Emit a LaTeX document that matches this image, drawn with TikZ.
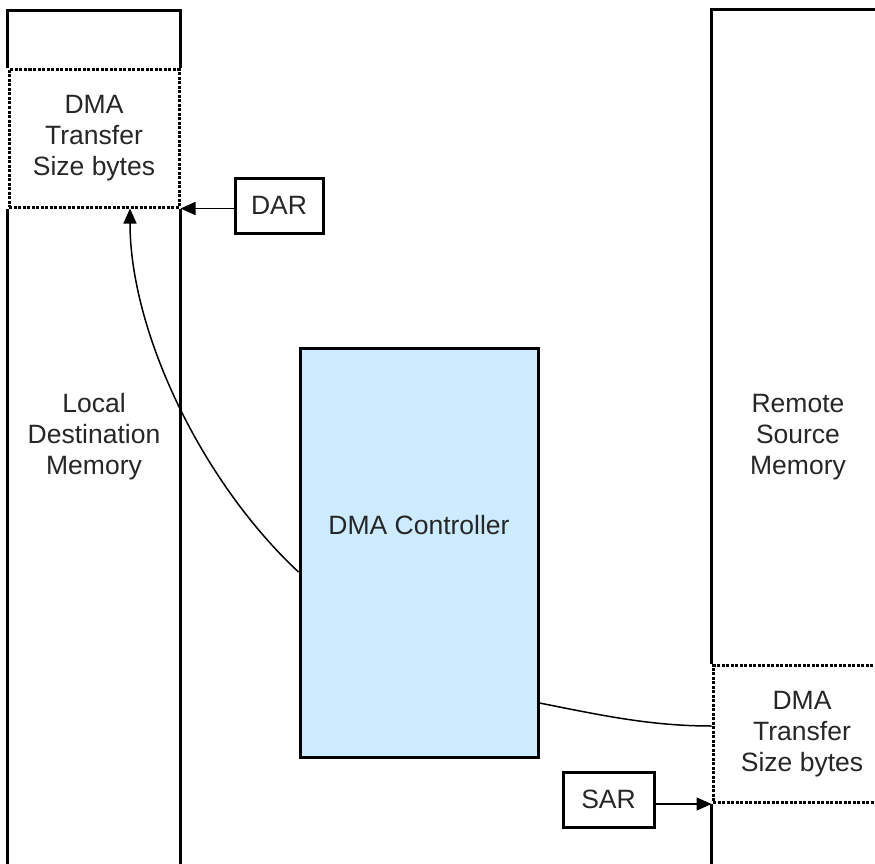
\documentclass[tikz,border=0pt]{standalone}
\usepackage{fontspec}
\setmainfont{Liberation Sans}
\usetikzlibrary{arrows.meta}

\definecolor{ctlblue}{RGB}{204,235,255}
\newcommand{\lblfont}{\fontsize{26.5pt}{31pt}\selectfont}

\begin{document}
\begin{tikzpicture}[x=1pt, y=-1pt,
    wall/.style={line width=3pt},
    lbl/.style={align=center, font=\lblfont, text=black!85},
    bufbox/.style={lbl, draw=black, line width=3pt, dash pattern=on 3pt off 1.5pt,
        minimum height=137pt, inner sep=0pt},
    regbox/.style={lbl, draw, line width=3pt, minimum height=55pt, inner sep=0pt},
    ctlbox/.style={draw, fill=ctlblue, line width=3pt,
        minimum width=238pt, minimum height=409pt},
    arr/.style={-{Triangle[length=15pt,width=13pt]}, line width=1.5pt},
    link/.style={line width=1.5pt}]

    \clip (0,0) rectangle (875,864);

    % Transfer buffers
    \node[bufbox, minimum width=170pt] (dstbuf) at (94,138.5) {DMA\\Transfer\\Size bytes};
    \node[bufbox, minimum width=178pt] (srcbuf) at (802,734) {DMA\\Transfer\\Size bytes};

    % Local destination memory
    \draw[wall] (dstbuf.north west) -- ++(0,-58) -| (dstbuf.north east);
    \draw[wall] (dstbuf.south west) -- ++(0,670);
    \draw[wall] (dstbuf.south east) -- ++(0,670);
    \node[lbl] (dstmem) at (94,437) {Local\\Destination\\Memory};

    % Remote source memory
    \draw[wall] (srcbuf.north west) -- ++(0,-654) -- ++(200,0);
    \draw[wall] (srcbuf.south west) -- ++(0,70);
    \node[lbl] (srcmem) at (798,437) {Remote\\Source\\Memory};

    % DMA controller
    \node[ctlbox] (dmactl) at (419,552.5) {};
    \node[lbl] (ctltxt) at (419,525) {DMA Controller};

    % Address registers
    \node[regbox, minimum width=88pt] (dar) at (279,205.5) {DAR};
    \node[regbox, minimum width=91pt] (sar) at (608.5,799.5) {SAR};
    \draw[arr] (dar.west |- dstbuf.south) -- (dstbuf.south east);
    \draw[arr] (sar.east |- srcbuf.south) -- (srcbuf.south west);

    % Controller paths
    \draw[arr] ([yshift=-19.5pt]dmactl.west) .. controls (200,480) and (130,330) .. ([xshift=36pt]dstbuf.south);
    \draw[link] ([yshift=-150.5pt]dmactl.east) .. controls (600,715) and (650,726) .. ([yshift=8pt]srcbuf.west);

\end{tikzpicture}
\end{document}
